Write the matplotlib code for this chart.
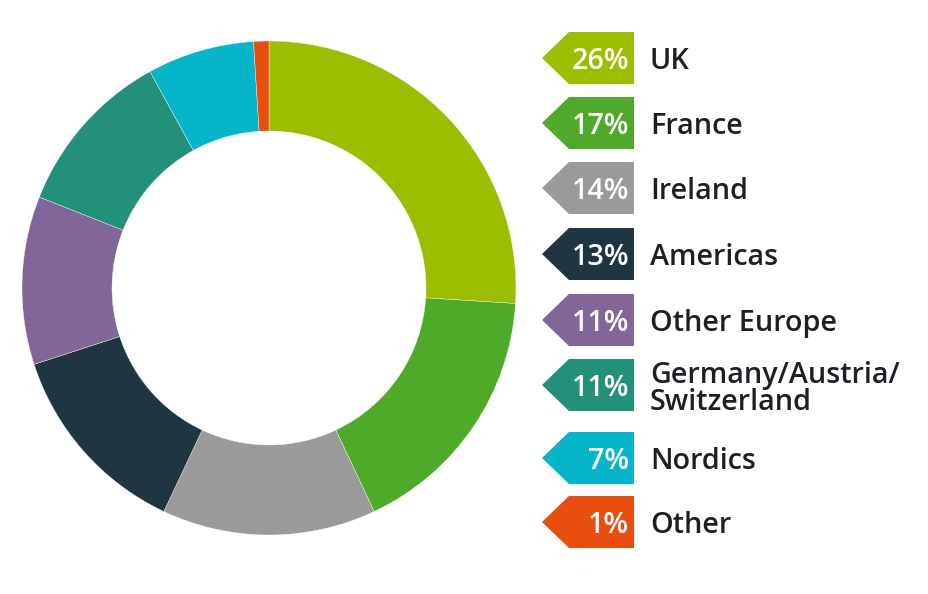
import matplotlib
matplotlib.use("Agg")
import matplotlib.pyplot as plt
from matplotlib.patches import Polygon

categories = ["UK", "France", "Ireland", "Americas", "Other Europe",
              "Germany/Austria/\nSwitzerland", "Nordics", "Other"]
values = [26, 17, 14, 13, 11, 11, 7, 1]
pct_labels = ["26%", "17%", "14%", "13%", "11%", "11%", "7%", "1%"]
colors = ["#9bbf00", "#4eaa28", "#9a9a9a", "#1f3642",
          "#82669a", "#23917a", "#07b5c8", "#e84e0f"]

W, H = 929, 594
fig = plt.figure(figsize=(W / 100, H / 100), dpi=100)
fig.patch.set_facecolor("white")

# donut
cx, cy, R = 269, 288, 247
ax = fig.add_axes([(cx - R) / W, (H - cy - R) / H, 2 * R / W, 2 * R / H])
ax.pie(values, colors=colors, startangle=90, counterclock=False, radius=1,
       wedgeprops=dict(width=1 - 157 / 247, edgecolor="white", linewidth=0.25))
ax.set_xlim(-1, 1)
ax.set_ylim(-1, 1)
ax.set_aspect("equal")
ax.axis("off")

# legend tags
lax = fig.add_axes([0, 0, 1, 1])
lax.set_xlim(0, W)
lax.set_ylim(H, 0)
lax.axis("off")

centers = [58, 123, 188, 254, 320, 385, 458, 522]
font = "Open Sans"
fs = 20.7
for cat, pct, col, yc in zip(categories, pct_labels, colors, centers):
    h = 26
    poly = Polygon([(542, yc), (569, yc - h), (634, yc - h), (634, yc + h),
                    (569, yc + h)], closed=True, facecolor=col, edgecolor="none")
    lax.add_patch(poly)
    lax.text(629, yc + 11, pct, color="white", fontsize=fs, family=font,
             weight="semibold", ha="right", va="baseline")
    if "\n" in cat:
        lax.text(650, yc + 4, cat, color="#1e1f24", fontsize=fs, family=font,
                 weight="semibold", ha="left", va="center", linespacing=0.95)
    else:
        lax.text(650, yc + 11, cat, color="#1e1f24", fontsize=fs, family=font,
                 weight="semibold", ha="left", va="baseline")

fig.savefig("out.png", dpi=100, facecolor="white")
